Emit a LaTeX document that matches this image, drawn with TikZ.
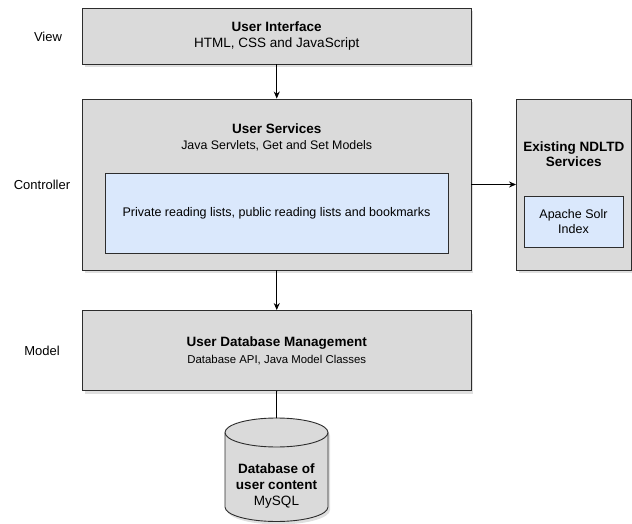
\documentclass[tikz,border=0pt]{standalone}
\usepackage{fontspec}
\setmainfont{Liberation Sans}
\usetikzlibrary{positioning, arrows.meta, shapes.geometric, shadows}
\definecolor{boxgray}{RGB}{218,218,218}
\definecolor{listblue}{RGB}{218,232,252}
\definecolor{edgegray}{RGB}{45,45,45}

\begin{document}
\begin{tikzpicture}[x=1pt, y=1pt,
    layerbox/.style={draw=edgegray, fill=boxgray, line width=0.9pt, inner sep=0pt, align=center,
        drop shadow={opacity=0.25, shadow xshift=2pt, shadow yshift=-3pt}},
    innerbox/.style={draw=edgegray, fill=listblue, line width=0.9pt, inner sep=0pt, align=center},
    layerlabel/.style={font=\fontsize{13}{15}\selectfont},
    titlefont/.style={font=\fontsize{13.5}{16}\selectfont},
    flow/.style={-{Stealth[length=7pt, width=6pt]}, line width=0.8pt}]
    \useasboundingbox (0,0) rectangle (632,523);

    % Layer labels
    \node[layerlabel] (view) at (48,486) {View};
    \node[layerlabel] (controller) at (42,338) {Controller};
    \node[layerlabel] (model) at (42,172) {Model};

    % View layer
    \node[layerbox, titlefont, minimum width=388.5pt, minimum height=56pt] (ui) at (276.75,487)
        {\textbf{User Interface}\\HTML, CSS and JavaScript};

    % Controller layer
    \node[layerbox, minimum width=388.5pt, minimum height=171pt] (services) at (276.75,338.5) {};
    \node[titlefont, align=center] (servicestitle) at (276.75,386)
        {\textbf{User Services}\\{\fontsize{12.4}{16}\selectfont Java Servlets, Get and Set Models}};
    \node[innerbox, font=\fontsize{12.5}{15}\selectfont, minimum width=343pt, minimum height=80pt] (lists) at (276.5,310)
        {Private reading lists, public reading lists and bookmarks};

    % External services
    \node[layerbox, minimum width=114.5pt, minimum height=171pt] (ndltd) at (573.75,338.5) {};
    \node[font=\fontsize{13.5}{14.5}\selectfont\bfseries, align=center] (ndltdtitle) at (573.75,369)
        {Existing NDLTD\\Services};
    \node[innerbox, font=\fontsize{12.5}{15}\selectfont, minimum width=99pt, minimum height=51pt] (solr) at (573.5,301.5)
        {Apache Solr\\Index};

    % Model layer
    \node[layerbox, titlefont, minimum width=388.5pt, minimum height=80pt] (dbm) at (276.75,172.5)
        {\textbf{User Database Management}\\[1pt]{\fontsize{11.4}{16}\selectfont Database API, Java Model Classes}};

    % Database (cylinder)
    \path[draw=edgegray, fill=boxgray, line width=0.9pt,
        drop shadow={opacity=0.25, shadow xshift=2pt, shadow yshift=-3pt}]
        (225,90.5) -- (225,16) arc[start angle=180, end angle=360, x radius=51.5, y radius=14.5]
        -- (328,90.5) arc[start angle=0, end angle=180, x radius=51.5, y radius=14.5] -- cycle;
    \draw[edgegray, line width=0.9pt]
        (225,90.5) arc[start angle=180, end angle=360, x radius=51.5, y radius=14.5];
    \coordinate (dbtop) at (276.5,105);
    \node[font=\fontsize{13.5}{16}\selectfont, align=center] (dbtext) at (276.5,37)
        {\textbf{Database of}\\\textbf{user content}\\MySQL};

    % Connectors
    \draw[flow] (ui) -- (services);
    \draw[flow] (services) -- (dbm);
    \draw[flow] (services) -- (ndltd);
    \draw[line width=0.8pt] (dbm) -- (dbtop);
\end{tikzpicture}
\end{document}
